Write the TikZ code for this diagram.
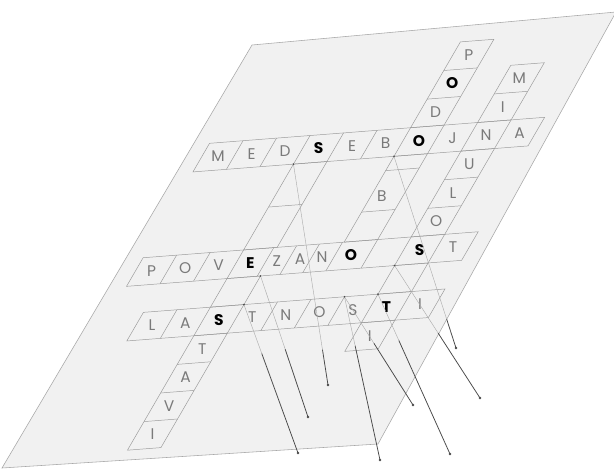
\documentclass[tikz,border=0pt]{standalone}
\usepackage{fontspec}
\setmainfont{Poppins}
\usepackage{xcolor}
\usepackage{tikz}
\usetikzlibrary{calc}

\definecolor{planefill}{HTML}{F1F1F1}
\definecolor{planeedge}{HTML}{A8A8A8}
\definecolor{cellline}{HTML}{9C9C9C}
\definecolor{faintline}{HTML}{ABABAB}
\definecolor{lettergray}{HTML}{7A7A7A}
\definecolor{stringdark}{HTML}{4A4A4A}

\begin{document}
\begin{tikzpicture}[
  x=0.025cm, y=-0.025cm,
  cellbox/.style={draw=cellline, line width=0.35pt},
  letter/.style={font=\fontsize{11}{11}\selectfont, text=lettergray, inner sep=0pt},
  keyletter/.style={font=\fontsize{11}{11}\selectfont\bfseries, text=black, inner sep=0pt},
  faint/.style={draw=faintline, line width=0.3pt},
  string/.style={draw=stringdark, line width=0.55pt}
]
\useasboundingbox[fill=white] (0,0) rectangle (614,470);

% the slanted sheet
\coordinate (p1) at (252,45);
\coordinate (p2) at (616,12);
\coordinate (p3) at (378,444);
\coordinate (p4) at (2,468);
\draw[draw=planeedge, fill=planefill, line width=0.4pt] (p1) -- (p2) -- (p3) -- (p4) -- cycle;

% crossword grid, in the sheet's own (skewed) frame
\begin{scope}[shift={(267.8,70.5)}, x={(0.8375cm,0.065cm)}, y={(-0.415cm,-0.715cm)}]

% across words
\draw[cellbox] (-0.5,2.5) -- (9.5,2.5) -- (9.5,3.5) -- (-0.5,3.5) -- cycle;
\foreach \b in {0.5,1.5,...,8.5} \draw[cellbox] (\b,2.5) -- (\b,3.5);
\draw[cellbox] (-0.5,6.5) -- (9.5,6.5) -- (9.5,7.5) -- (-0.5,7.5) -- cycle;
\foreach \b in {0.5,1.5,2.5,3.4,4.08,4.76,5.45,6.5,7.5,8.5} \draw[cellbox] (\b,6.5) -- (\b,7.5);
\draw[cellbox] (0.5,8.5) -- (9.5,8.5) -- (9.5,9.5) -- (0.5,9.5) -- cycle;
\foreach \b in {1.5,2.5,...,8.5} \draw[cellbox] (\b,8.5) -- (\b,9.5);

% down strips
\foreach \c/\ra/\rb in {6/-0.5/2.5, 6/3.5/6.5, 8/0.5/2.5, 8/3.5/6.5, 8/7.5/8.5, 8/9.5/10.5,
                        3/3.5/6.5, 3/7.5/8.5, 3/9.5/13.5}
  \draw[cellbox] (\c-0.5,\ra) -- (\c+0.5,\ra) -- (\c+0.5,\rb) -- (\c-0.5,\rb) -- cycle;
\foreach \c/\r in {6/0.5, 6/1.5, 6/4.0, 6/5.45, 8/1.5, 8/4.5, 8/5.5, 3/5.0, 3/10.5, 3/11.5, 3/12.5}
  \draw[cellbox] (\c-0.5,\r) -- (\c+0.5,\r);

% letters
\foreach \t/\s [count=\i from 0] in {M/letter,E/letter,D/letter,S/keyletter,E/letter,
                                     B/letter,O/keyletter,J/letter,N/letter,A/letter}
  \node[\s] (ms\i) at (\i,3) {\t};
\foreach \c/\t/\s [count=\i] in {0/P/letter,1/O/letter,2/V/letter,2.95/E/keyletter,
                                 3.74/Z/letter,4.43/A/letter,5.09/N/letter,5.95/O/keyletter,
                                 8/S/keyletter,9/T/letter}
  \node[\s] (pv\i) at (\c,7) {\t};
\foreach \t/\s [count=\i] in {L/letter,A/letter,S/keyletter,T/letter,N/letter,
                              O/letter,S/letter,T/keyletter,I/letter}
  \node[\s] (ls\i) at (\i,9) {\t};

\node[letter] (pd0) at (6,0) {P};
\node[keyletter] (pd1) at (6,1) {O};
\node[letter] (pd2) at (6,2) {D};
\node[letter] (pd5) at (5.85,4.93) {B};

\node[letter] (mn1) at (8,1) {M};
\node[letter] (mn2) at (8,2) {I};
\node[letter] (mn4) at (8,4) {U};
\node[letter] (mn5) at (8,5) {L};
\node[letter] (mn6) at (8,6) {O};
\node[letter] (mn10) at (8,10) {I};

\node[letter] (st10) at (3,10) {T};
\node[letter] (st11) at (3,11) {A};
\node[letter] (st12) at (3,12) {V};
\node[letter] (st13) at (3,13) {I};

% knots on the grid corners
\coordinate (k1) at (3.5,8.5);
\coordinate (k2) at (3.5,7.5);
\coordinate (k3) at (2.5,3.5);
\coordinate (k4) at (6.5,8.5);
\coordinate (k5) at (7.5,8.5);
\coordinate (k6) at (7.5,7.5);
\coordinate (k7) at (5.5,3.5);
\end{scope}

% loose ends below the sheet
\coordinate (e1) at (298,453);
\coordinate (e2) at (308,417);
\coordinate (e3) at (328,385);
\coordinate (e4) at (380,460);
\coordinate (e5) at (413,405);
\coordinate (e6) at (450,454);
\coordinate (e7) at (480,398);
\coordinate (e8) at (456,348);

\foreach \k/\e/\t in {k1/e1/0.33, k2/e2/0.52, k3/e3/0.84, k4/e4/0.30,
                      k4/e5/0.43, k5/e6/0.29, k6/e7/0.51, k7/e8/0.85} {
  \draw[faint] (\k) -- ($(\k)!\t!(\e)$);
  \draw[string] ($(\k)!\t!(\e)$) -- (\e);
  \fill[stringdark] (\e) circle (1.3);
}
\foreach \k in {k1,k2,k3,k4,k5,k6,k7}
  \fill[stringdark] (\k) circle (0.9);

\end{tikzpicture}
\end{document}
